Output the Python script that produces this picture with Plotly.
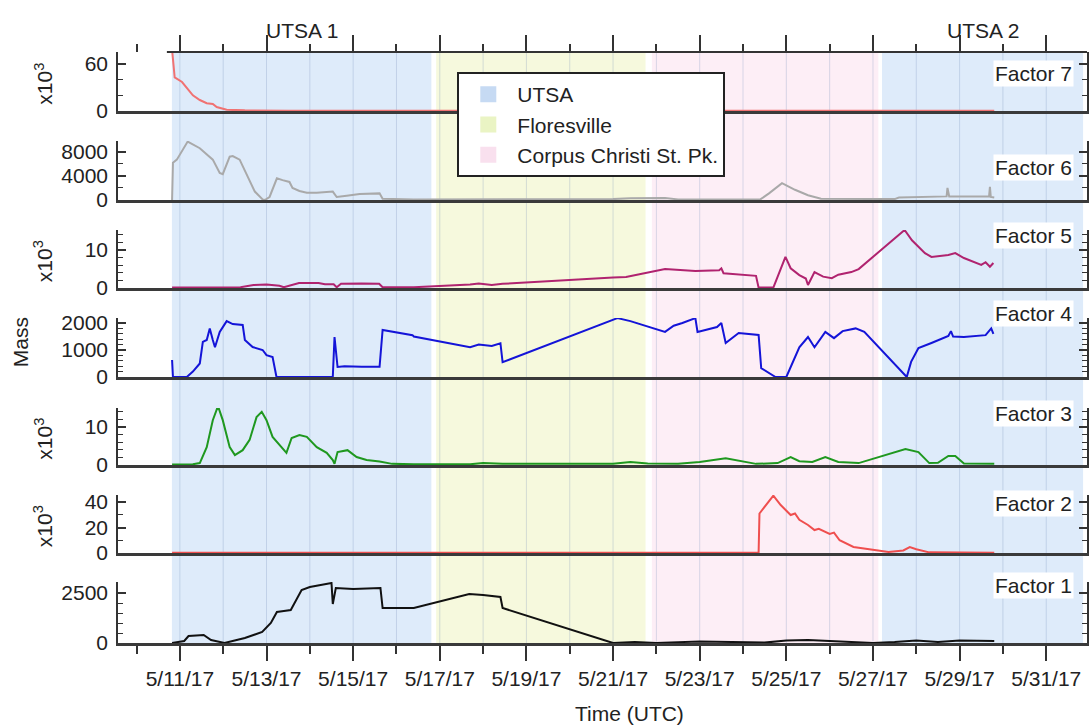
import pandas as pd
import plotly.graph_objects as go

# ---------------------------------------------------------------------------
# Data: PMF factor time series (time in days after 5/11/17 00:00 UTC)
# ---------------------------------------------------------------------------
T0 = pd.Timestamp("2017-05-11 00:00")

f7_days = [-0.18, -0.12, 0.05, 0.16, 0.30, 0.46, 0.62, 0.76, 0.85, 1.08, 1.5, 2.5,
           3.5, 5.4, 6.7, 7.45, 10.0, 12.0, 14.0, 16.0, 17.5, 18.8]
f7_mass = [78, 43, 37, 29, 20, 14, 10, 9, 5, 1.5, 0.8, 0.4,
           0.3, 0.2, 0.2, 0.2, 0.2, 0.2, 0.2, 0.2, 0.2, 0.2]  # x10^3

f6_days = [-0.18, -0.16, -0.07, 0.18, 0.46, 0.76, 0.92, 0.99, 1.15, 1.22, 1.38, 1.57,
           1.73, 1.91, 1.96, 2.07, 2.24, 2.37, 2.53, 2.60, 2.76, 2.93, 3.16, 3.53,
           3.62, 3.85, 4.15, 4.61, 4.68, 5.4, 6.7, 7.45, 10.0, 10.4, 11.2, 11.5,
           13.4, 13.6, 13.9, 14.2, 14.5, 14.8, 16.5, 16.6, 17.7, 17.72, 17.76, 18.68,
           18.7, 18.72, 18.8]
f6_mass = [0, 6200, 6700, 9700, 8600, 6700, 4500, 4300, 7200, 7300, 6700, 3900,
           1400, 100, 0, 500, 3600, 3300, 3000, 2000, 1500, 1200, 1200, 1400,
           500, 700, 1000, 1100, 200, 100, 100, 150, 150, 300, 350, 100,
           100, 1100, 2800, 1700, 800, 200, 150, 400, 600, 2000, 600, 600,
           2200, 500, 400]

f5_days = [-0.18, 1.4, 1.7, 2.0, 2.3, 2.4, 2.75, 3.2, 3.35, 3.55, 3.62, 3.72, 4.2,
           4.6, 4.68, 5.4, 6.7, 6.9, 7.2, 7.45, 10.0, 10.3, 11.2, 11.9, 12.45, 12.5,
           12.55, 13.3, 13.36, 13.7, 13.98, 14.1, 14.3, 14.45, 14.5, 14.65, 14.85,
           15.05, 15.2, 15.5, 15.67, 16.73, 16.9, 17.2, 17.35, 17.6, 17.74, 17.9,
           18.1, 18.5, 18.6, 18.7, 18.78]
f5_mass = [0.1, 0.2, 0.8, 0.9, 0.6, 0.2, 1.3, 1.3, 1.0, 1.0, 0.2, 1.1, 1.2,
           1.1, 0.2, 0.2, 0.9, 1.2, 0.8, 1.1, 2.8, 2.9, 5.0, 4.5, 4.7, 5.2,
           3.9, 3.2, 0.1, 0.1, 8.2, 5.2, 3.4, 2.5, 0.8, 4.2, 3.0,
           2.6, 3.5, 4.2, 5.0, 15.3, 12.6, 9.2, 8.2, 8.4, 8.7, 9.2,
           7.9, 6.1, 6.8, 5.6, 6.6]  # x10^3

f4_days = [-0.18, -0.16, 0.16, 0.30, 0.46, 0.53, 0.62, 0.69, 0.76, 0.81, 0.92, 1.08,
           1.22, 1.45, 1.50, 1.68, 1.91, 2.0, 2.14, 2.23, 3.53, 3.57, 3.64, 3.8,
           4.2, 4.61, 4.68, 5.0, 5.37, 5.4, 6.7, 6.9, 7.2, 7.4, 7.45, 10.1, 10.4,
           11.2, 11.4, 11.6, 11.9, 11.95, 12.4, 12.5, 12.6, 12.9, 13.36, 13.42,
           13.75, 14.0, 14.3, 14.5, 14.65, 14.9, 15.1, 15.3, 15.6, 15.8, 16.78,
           16.88, 17.05, 17.35, 17.74, 17.8, 17.85, 18.1, 18.6, 18.73, 18.78]
f4_mass = [630, 0, 0, 200, 500, 1300, 1370, 1800, 1370, 1100, 1670, 2070,
           1960, 1930, 1370, 1110, 1000, 810, 740, 0, 0, 1480, 370, 400,
           380, 380, 1740, 1650, 1550, 1500, 1100, 1200, 1150, 1250, 550, 2180, 2070,
           1670, 1900, 2000, 2180, 1670, 1850, 2000, 1260, 1630, 1560, 330,
           0, 0, 1100, 1480, 1100, 1670, 1440, 1700, 1800, 1670, 0,
           560, 1070, 1260, 1520, 1700, 1500, 1480, 1550, 1800, 1600]

f3_days = [-0.18, 0.3, 0.46, 0.62, 0.76, 0.88, 0.99, 1.15, 1.27, 1.45, 1.61, 1.77,
           1.89, 2.0, 2.14, 2.35, 2.46, 2.58, 2.76, 2.93, 3.16, 3.39, 3.53, 3.57,
           3.64, 3.87, 4.08, 4.31, 4.61, 4.9, 5.4, 6.7, 7.0, 7.45, 10.0, 10.4,
           10.8, 11.5, 12.0, 12.6, 12.9, 13.3, 13.8, 14.1, 14.3, 14.6, 14.9, 15.2,
           15.67, 16.75, 17.05, 17.3, 17.5, 17.74, 17.9, 18.1, 18.8]
f3_mass = [0.1, 0.2, 0.5, 4.7, 11.8, 15.5, 11.8, 4.7, 2.6, 3.9, 6.6, 12.6,
           14.0, 11.8, 7.4, 4.5, 3.2, 7.1, 7.9, 7.4, 4.7, 3.2, 1.3, 0.3,
           3.4, 3.9, 2.1, 1.3, 0.9, 0.3, 0.2, 0.2, 0.5, 0.3, 0.3, 0.8,
           0.4, 0.3, 0.8, 1.8, 1.2, 0.3, 0.5, 2.1, 1.0, 0.8, 2.1, 0.8,
           0.5, 4.2, 3.4, 0.5, 0.6, 2.4, 2.4, 0.4, 0.3]  # x10^3

f2_days = [-0.18, 13.36, 13.38, 13.5, 13.7, 13.87, 13.98, 14.1, 14.2, 14.3, 14.5,
           14.65, 14.75, 15.0, 15.1, 15.23, 15.55, 15.97, 16.36, 16.7, 16.85, 17.0,
           17.3, 18.8]
f2_mass = [0.2, 0.2, 31, 36, 45, 37.6, 33.7, 29.8, 31, 26, 22,
           18, 19, 15, 16, 10, 4.7, 2.4, 0.8, 2.0, 4.7, 3.0,
           0.5, 0.2]  # x10^3

f1_days = [-0.18, 0.1, 0.2, 0.55, 0.72, 1.03, 1.5, 1.9, 2.1, 2.24, 2.4, 2.56, 2.81,
           3.0, 3.5, 3.53, 3.6, 4.0, 4.63, 4.68, 5.4, 6.68, 7.0, 7.4, 7.45, 10.0,
           10.5, 11.0, 12.0, 13.5, 14.0, 14.5, 15.0, 15.5, 16.0, 16.5, 17.0, 17.5,
           18.0, 18.8]
f1_mass = [0, 100, 350, 400, 150, 0, 250, 550, 1000, 1550, 1600, 1650, 2650,
           2800, 3000, 1950, 2750, 2700, 2750, 1750, 1750, 2450, 2400, 2300, 1750, 0,
           50, 0, 80, 20, 120, 150, 100, 60, 0, 50, 130, 50,
           120, 100]

# Sampling sites (legend) and deployment periods (background shading)
site_names = ["UTSA", "Floresville", "Corpus Christi St. Pk."]
site_fill = ["#deebfa", "#f6f9dd", "#fdeef6"]
site_swatch = ["#c6daf3", "#eaf4c4", "#f9e0ee"]
period_site = ["UTSA", "Floresville", "Corpus Christi St. Pk.", "UTSA"]
period_start = ["2017-05-10 19:35", "2017-05-16 22:00", "2017-05-21 21:30", "2017-05-27 05:00"]
period_end = ["2017-05-16 19:20", "2017-05-21 18:00", "2017-05-27 03:00", "2017-05-31 20:25"]
campaign_labels = ["UTSA 1", "UTSA 2"]
campaign_period = [0, 3]

factor_names = ["Factor 7", "Factor 6", "Factor 5", "Factor 4", "Factor 3", "Factor 2", "Factor 1"]

# ---------------------------------------------------------------------------
# Figure geometry and styles
# ---------------------------------------------------------------------------
W, H = 1089, 725
M_L, M_R, M_T, M_B = 118, 0, 52, 82
PLOT_H = H - M_T - M_B
PLOT_W = W - M_L - M_R
FONT = "Liberation Sans, Arial, sans-serif"
FS = 21
AX = "#333333"
X_RANGE = ["2017-05-09 13:43", "2017-05-31 22:35"]
DAY_MS = 86400000


def py(ypx):
    """Pixel row -> paper fraction."""
    return (H - M_B - ypx) / PLOT_H


def px(xpx):
    return (xpx - M_L) / PLOT_W


# (top, bottom) pixel rows of each stacked panel
panel_px = [(52, 111), (141, 200), (230, 288), (318, 377), (408, 465), (495, 553), (582, 643)]
y_ranges = [75.3, 9800, 15.3, 2185, 15.0, 45.5, 3050]
y_major = [[0, 60], [0, 4000, 8000], [0, 10], [0, 1000, 2000], [0, 10], [0, 20, 40], [0, 2500]]
y_minor = [20, 2000, 2, 200, 2, 10, 500]
label_y = [73, 167, 235, 313, 413, 503, 585]
sci_label = [True, False, True, False, True, True, False]

series = [
    (f7_days, f7_mass, "#f07272"),
    (f6_days, f6_mass, "#a9a9a9"),
    (f5_days, f5_mass, "#b0236f"),
    (f4_days, f4_mass, "#1414d8"),
    (f3_days, f3_mass, "#1f981f"),
    (f2_days, f2_mass, "#ef4f4f"),
    (f1_days, f1_mass, "#111111"),
]


def to_time(days):
    return T0 + pd.to_timedelta(days, unit="D")


fig = go.Figure()
layout = {}
for i, ((days, vals, col), (top, bot)) in enumerate(zip(series, panel_px)):
    n = i + 1
    xs = "" if n == 1 else str(n)
    fig.add_trace(go.Scatter(
        x=to_time(days), y=vals, mode="lines",
        line=dict(color=col, width=2), showlegend=False, hoverinfo="skip",
        xaxis="x" + xs, yaxis="y" + xs,
    ))
    layout["yaxis" + xs] = dict(
        domain=[py(bot), py(top)], range=[0, y_ranges[i]], anchor="x" + xs,
        showline=True, linecolor=AX, linewidth=1.5, mirror="ticks",
        ticks="inside", ticklen=8, tickwidth=1.5, tickcolor=AX,
        tickmode="array", tickvals=y_major[i], tickformat="d",
        minor=dict(ticks="inside", ticklen=5, tickwidth=1.2, tickcolor=AX,
                   tickmode="linear", tick0=0, dtick=y_minor[i]),
        showgrid=False, zeroline=False, ticklabelstandoff=4,
        tickfont=dict(family=FONT, size=FS, color="#222"),
    )
    xa = dict(
        range=X_RANGE, type="date", anchor="y" + xs, domain=[0, 1],
        showline=True, linecolor="#3a3a3a", linewidth=2.5, layer="below traces",
        showgrid=False, zeroline=False, showticklabels=False, ticks="",
    )
    if n > 1:
        xa["matches"] = "x"
    if n == 7:
        xa.update(
            ticks="outside", ticklen=15, tickwidth=1.5, tickcolor=AX,
            tick0="2017-05-11", dtick=2 * DAY_MS, tickformat="%-m/%-d/%y",
            showticklabels=True, tickfont=dict(family=FONT, size=FS, color="#222"),
            minor=dict(ticks="outside", ticklen=8, tickwidth=1.5, tickcolor=AX,
                       tick0="2017-05-11", dtick=DAY_MS),
        )
    layout["xaxis" + xs] = xa

# top date axis (ticks only)
layout["xaxis8"] = dict(
    overlaying="x", anchor="free", position=1, side="top", type="date", range=X_RANGE,
    ticks="outside", ticklen=17, tickwidth=1.5, tickcolor=AX,
    tick0="2017-05-11", dtick=2 * DAY_MS, showticklabels=False,
    minor=dict(ticks="outside", ticklen=8, tickwidth=1.5, tickcolor=AX,
               tick0="2017-05-11", dtick=DAY_MS),
    showline=False, showgrid=False, zeroline=False,
)
fig.add_trace(go.Scatter(x=[T0], y=[None], mode="lines", xaxis="x8", yaxis="y",
                         showlegend=False, hoverinfo="skip"))

# legend entries for the sampling sites
for name, sw in zip(site_names, site_swatch):
    fig.add_trace(go.Scatter(x=[None], y=[None], mode="markers", name=name,
                             marker=dict(symbol="square", size=16, color=sw),
                             hoverinfo="skip"))

shapes = []
site_color = dict(zip(site_names, site_fill))
for s, a, b in zip(period_site, period_start, period_end):
    shapes.append(dict(type="rect", xref="x", yref="paper", x0=a, x1=b, y0=0, y1=1,
                       fillcolor=site_color[s], line=dict(width=0), layer="below"))
for d in pd.date_range("2017-05-11", "2017-05-31", freq="D"):
    shapes.append(dict(type="line", xref="x", yref="paper", x0=d, x1=d, y0=0, y1=1,
                       line=dict(color="rgba(120,145,185,0.28)", width=1), layer="below"))
# top axis line, starting with the record
shapes.append(dict(type="line", xref="x", yref="paper", x0=to_time(-0.3), x1=X_RANGE[1],
                   y0=1, y1=1, line=dict(color=AX, width=2)))

annotations = []
for name, ly in zip(factor_names, label_y):
    annotations.append(dict(text=name, xref="paper", yref="paper", x=px(1076), y=py(ly),
                            xanchor="right", yanchor="middle", showarrow=False,
                            bgcolor="white", borderpad=1,
                            font=dict(family=FONT, size=FS, color="#222")))
for (top, bot), sci in zip(panel_px, sci_label):
    if sci:
        annotations.append(dict(text="x10<sup>3</sup>", textangle=-90, xref="paper", yref="paper",
                                x=px(43), y=py((top + bot) / 2 + 2), xanchor="center",
                                yanchor="middle", showarrow=False,
                                font=dict(family=FONT, size=FS, color="#222")))
annotations.append(dict(text="Mass", textangle=-90, xref="paper", yref="paper",
                        x=px(20), y=py(342), xanchor="center", yanchor="middle",
                        showarrow=False, font=dict(family=FONT, size=FS, color="#222")))
annotations.append(dict(text="Time (UTC)", xref="paper", yref="paper",
                        x=px(631), y=py(713), xanchor="center", yanchor="middle",
                        showarrow=False, font=dict(family=FONT, size=FS, color="#222")))
for lab, k in zip(campaign_labels, campaign_period):
    mid = pd.Timestamp(period_start[k]) + (pd.Timestamp(period_end[k]) - pd.Timestamp(period_start[k])) / 2
    annotations.append(dict(text=lab, xref="x", yref="paper", x=mid, y=py(30),
                            xanchor="center", yanchor="middle", showarrow=False,
                            font=dict(family=FONT, size=FS, color="#222")))

fig.update_layout(
    width=W, height=H,
    margin=dict(l=M_L, r=M_R, t=M_T, b=M_B, pad=0),
    paper_bgcolor="white", plot_bgcolor="rgba(0,0,0,0)",
    font=dict(family=FONT, size=FS, color="#222"),
    shapes=shapes, annotations=annotations,
    legend=dict(x=px(458), y=py(72), xanchor="left", yanchor="top",
                bgcolor="white", bordercolor="#222", borderwidth=2,
                font=dict(family=FONT, size=FS, color="#222"),
                itemwidth=48, tracegroupgap=0),
    **layout,
)

fig.write_html("out.html")
